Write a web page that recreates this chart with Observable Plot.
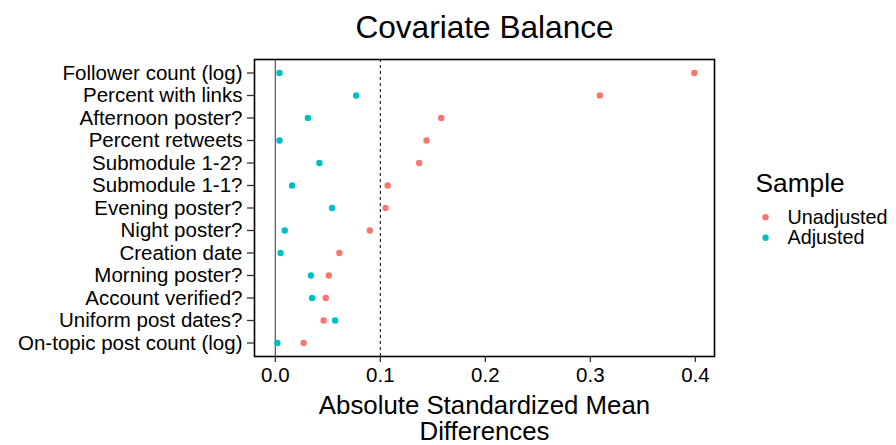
<!DOCTYPE html>
<html>
<head>
<meta charset="utf-8">
<script src="https://cdn.jsdelivr.net/npm/d3@7"></script>
<script src="https://cdn.jsdelivr.net/npm/@observablehq/plot@0.6"></script>
<style>
  html, body { margin: 0; padding: 0; background: #fff; }
  svg { font-family: "Liberation Sans", Arial, sans-serif; }
</style>
</head>
<body>
<div id="chart"></div>
<script>
const covariates = [
  "Follower count (log)",
  "Percent with links",
  "Afternoon poster?",
  "Percent retweets",
  "Submodule 1-2?",
  "Submodule 1-1?",
  "Evening poster?",
  "Night poster?",
  "Creation date",
  "Morning poster?",
  "Account verified?",
  "Uniform post dates?",
  "On-topic post count (log)"
];
const unadjusted = [0.399, 0.309, 0.158, 0.144, 0.137, 0.107, 0.105, 0.090, 0.061, 0.051, 0.048, 0.046, 0.027];
const adjusted   = [0.004, 0.077, 0.031, 0.004, 0.042, 0.016, 0.054, 0.009, 0.005, 0.034, 0.035, 0.057, 0.002];
const samples = ["Unadjusted", "Adjusted"];
const sampleColors = ["#F8766D", "#00BFC4"];
const xTicks = [0, 0.1, 0.2, 0.3, 0.4];
const xTitle = ["Absolute Standardized Mean", "Differences"];

const data = [];
covariates.forEach((c, i) => {
  data.push({covariate: c, value: unadjusted[i], sample: "Unadjusted"});
  data.push({covariate: c, value: adjusted[i], sample: "Adjusted"});
});

const chart = Plot.plot({
  width: 896,
  height: 445,
  marginLeft: 254,
  marginRight: 182,
  marginTop: 59,
  marginBottom: 89,
  style: {fontFamily: "Liberation Sans, Arial, sans-serif", background: "#fff", color: "#000"},
  x: {domain: [-0.0198, 0.4182], ticks: xTicks, tickFormat: d3.format(".1f"), label: null},
  y: {type: "point", domain: covariates, padding: 0.6, round: false, label: null},
  color: {domain: samples, range: sampleColors},
  marks: [
    Plot.ruleX([0], {stroke: "#333", strokeWidth: 1}),
    Plot.ruleX([0.1], {stroke: "#000", strokeWidth: 1, strokeDasharray: "3,3"}),
    Plot.dot(data, {x: "value", y: "covariate", fill: "sample", r: 3.2}),
    Plot.frame({stroke: "#000", strokeWidth: 1.6}),
    Plot.axisX({ticks: xTicks, tickFormat: d3.format(".1f"), tickSize: 6, tickPadding: 5, fontSize: 20.5, label: null, stroke: "#333", strokeWidth: 1.3}),
    Plot.axisY({tickSize: 7, tickPadding: 5, fontSize: 20.5, label: null, stroke: "#333", strokeWidth: 1.3}),
    Plot.text(["Covariate Balance"], {text: d => d, frameAnchor: "top", dy: -44, lineAnchor: "top", fontSize: 31.6}),
    Plot.text([xTitle[0]], {text: d => d, frameAnchor: "bottom", dy: 39, lineAnchor: "top", fontSize: 25.8}),
    Plot.text([xTitle[1]], {text: d => d, frameAnchor: "bottom", dy: 83, lineAnchor: "bottom", fontSize: 25.8}),
    Plot.text(["Sample"], {text: d => d, frameAnchor: "top-right", dx: 41, dy: 114, lineAnchor: "top", textAnchor: "start", fontSize: 26.3}),
    Plot.dot([samples[0]], {fill: d => d, frameAnchor: "top-right", dx: 51, dy: 157.7, r: 3.2}),
    Plot.dot([samples[1]], {fill: d => d, frameAnchor: "top-right", dx: 51, dy: 178.3, r: 3.2}),
    Plot.text([samples[0]], {text: d => d, frameAnchor: "top-right", dx: 73, dy: 150, lineAnchor: "top", textAnchor: "start", fontSize: 19.8}),
    Plot.text([samples[1]], {text: d => d, frameAnchor: "top-right", dx: 73, dy: 170.5, lineAnchor: "top", textAnchor: "start", fontSize: 19.8})
  ]
});
document.getElementById("chart").appendChild(chart);
</script>
</body>
</html>
